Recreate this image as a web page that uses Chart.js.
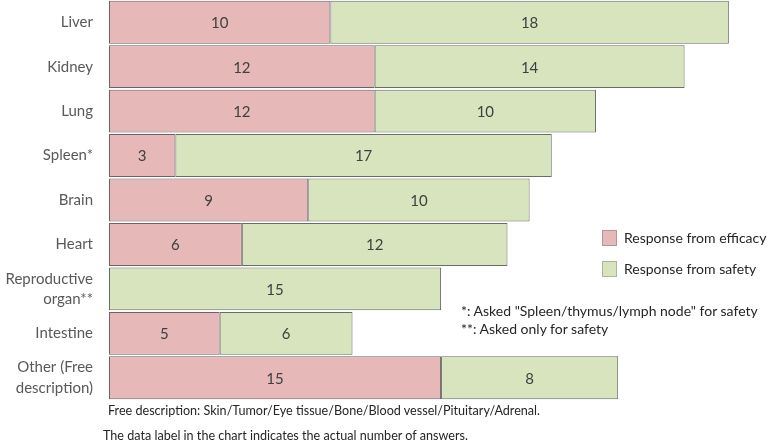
<!DOCTYPE html>
<html><head><meta charset="utf-8">
<script src="https://cdn.jsdelivr.net/npm/chart.js@4"></script>
<style>
html,body{margin:0;padding:0;background:#fff;}
#wrap{position:relative;width:771px;height:442px;font-family:Lato,"Open Sans",sans-serif;color:#262626;}
canvas{position:absolute;left:0;top:0;}
.t{position:absolute;white-space:nowrap;font-size:14px;line-height:16px;}
.s{font-size:12.6px;}
.box{position:absolute;width:15px;height:16px;border:1px solid #a0a0a0;box-sizing:border-box;}
</style></head>
<body><div id="wrap"><canvas id="c" width="771" height="442"></canvas>
<div class="box" style="left:602px;top:230px;background:#E6B9B8;border-color:#b89594"></div>
<div class="t" style="left:624px;top:230px;">Response from efficacy</div>
<div class="box" style="left:602px;top:261px;background:#D7E4BD;border-color:#aab696"></div>
<div class="t" style="left:624px;top:261px;">Response from safety</div>
<div class="t" style="left:461px;top:303px;">*: Asked "Spleen/thymus/lymph node" for safety</div>
<div class="t" style="left:461px;top:321px;">**: Asked only for safety</div>
<div class="t s" style="left:108px;top:403px;">Free description: Skin/Tumor/Eye tissue/Bone/Blood vessel/Pituitary/Adrenal.</div>
<div class="t s" style="left:103px;top:428px;">The data label in the chart indicates the actual number of answers.</div>
</div>
<script>
const categories = ["Liver","Kidney","Lung","Spleen*","Brain","Heart",["Reproductive","organ**"],"Intestine",["Other (Free","description)"]];
const efficacy = [10,12,12,3,9,6,0,5,15];
const safety = [18,14,10,17,10,12,15,6,8];
const seriesNames = ["Response from efficacy","Response from safety"];

const labelPlugin = {
  id:'lbl',
  afterDatasetsDraw(chart){
    const ctx = chart.ctx;
    ctx.save();
    ctx.font = '15px Lato, "Open Sans", sans-serif';
    ctx.fillStyle = '#404040';
    ctx.textAlign='center'; ctx.textBaseline='middle';
    chart.data.datasets.forEach((ds,di)=>{
      const meta = chart.getDatasetMeta(di);
      meta.data.forEach((bar,i)=>{
        const v = ds.data[i];
        if(!v) return;
        const x = (bar.x + bar.base)/2;
        ctx.fillText(String(v), x, bar.y+1);
      });
    });
    ctx.restore();
  }
};

new Chart(document.getElementById('c'),{
  type:'bar',
  data:{labels:categories,datasets:[
    {label:seriesNames[0],data:efficacy,backgroundColor:'#E6B9B8',borderColor:'#6e6262',borderWidth:1,borderSkipped:false,categoryPercentage:0.965,barPercentage:1},
    {label:seriesNames[1],data:safety,backgroundColor:'#D7E4BD',borderColor:'#676d60',borderWidth:1,borderSkipped:false,categoryPercentage:0.965,barPercentage:1}
  ]},
  options:{
    indexAxis:'y',responsive:false,animation:false,
    layout:{padding:{top:0,bottom:42,right:20,left:0}},
    plugins:{legend:{display:false},tooltip:{enabled:false}},
    scales:{
      x:{stacked:true,display:false,min:0,max:29},
      y:{stacked:true,grid:{display:false},border:{display:false},
         afterFit(s){s.width=109;s.paddingTop=0;s.paddingBottom=0;},
         ticks:{color:'#595959',padding:8,font:{family:'Lato, "Open Sans", sans-serif',size:15,lineHeight:1.35}}}
    }
  },
  plugins:[labelPlugin]
});
</script></body></html>
